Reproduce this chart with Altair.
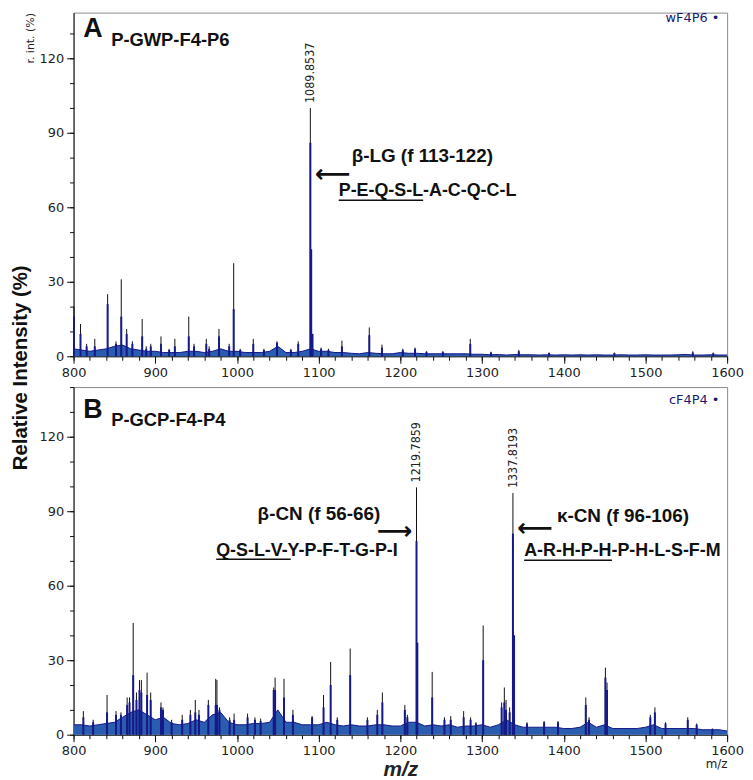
import altair as alt
import pandas as pd

# ---------------- data ----------------
BASE_MZ = list(range(800, 1601, 10))

# panel A (wF4P6) baseline envelope, % relative intensity at BASE_MZ
TOP_BASE = [3, 2.5, 2, 2.5, 3, 4, 4.5, 3, 2.5, 2,
            2, 1.5, 1.5, 1.5, 2, 2, 1.5, 2, 3, 2,
            2, 1.5, 1.5, 1.5, 2, 4, 1.5, 1.5, 2, 3,
            2, 2, 1.5, 1.5, 1.2, 1, 1.5, 1.2, 1, 1,
            1.5, 1.2, 1.2, 1, 1, 1, 1, 1, 1, 0.8,
            0.8, 0.6, 0.7, 0.5, 0.7, 0.6, 0.6, 0.5, 0.6, 0.5,
            0.6, 0.5, 0.6, 0.5, 0.6, 0.5, 0.5, 0.6, 0.5, 0.5,
            0.6, 0.5, 0.5, 0.5, 0.6, 0.7, 0.5, 0.5, 0.6, 0.5,
            0.5]

# panel B (cF4P4) baseline envelope
BOT_BASE = [4, 4, 3.5, 4, 4.5, 5, 7, 9, 10, 8,
            6, 7, 4.5, 4, 4.5, 6, 5, 8, 9, 5,
            4, 4, 4.5, 4.5, 5, 10, 5, 5, 4, 4,
            4, 5, 4, 3.5, 4, 3.5, 3.5, 4, 4, 3.5,
            3.5, 5, 5, 3.5, 4, 3.5, 4, 3, 3.5, 3.5,
            4, 3, 4, 6, 4, 3, 3, 3, 3, 3,
            2.5, 2.5, 3, 5, 3, 4, 2.5, 2.5, 2.5, 2.5,
            3, 4, 2.5, 2.5, 2.5, 2.5, 2.5, 2, 2, 2,
            1.5]

# panel A peaks: m/z, apex (thin black stick), body (blue trace)
TOP_MZ = [800.5, 808.5, 816, 826, 841.7, 852, 858.4, 865, 872, 884,
          889, 894.5, 907, 917, 924, 941, 947.5, 962.5, 966, 978,
          990.5, 996, 1004, 1020, 1033, 1049, 1066, 1075, 1089.85, 1090.9,
          1092.5, 1103, 1112, 1128.5, 1162, 1177.5, 1203, 1218, 1232, 1252,
          1285.6, 1311, 1345, 1382, 1462, 1558, 1583]
TOP_APEX = [20, 13, 5, 7, 25, 6, 31, 11, 6, 15,
            4, 5, 8, 3, 7, 16, 5, 7, 4, 11,
            5, 37.5, 3, 7, 3, 6, 3, 6, 100, 43,
            9, 3.5, 3, 6.3, 11.6, 4.7, 3, 3.5, 2, 2,
            7, 1.8, 2.5, 1.5, 1.5, 2, 1.5]
TOP_BODY = [16, 9, 4, 4, 21, 5, 16, 9, 5, 8,
            3, 4, 5, 2.5, 4, 8, 4, 5, 3, 8,
            4, 19, 2.5, 5, 2.5, 5.5, 2.5, 5, 86, 43,
            9, 3, 2.5, 4, 8.5, 3.5, 2.5, 3, 1.8, 1.8,
            5, 1.5, 2, 1.3, 1.3, 1.5, 1.2]

# panel B peaks
BOT_MZ = [812, 824, 841, 852, 858, 865.6, 868.5, 873, 877, 880.7,
          883, 890, 894.4, 907, 909.5, 920, 933, 943, 949, 953.5,
          965, 974, 975.5, 978.6, 991, 996.5, 1013, 1022, 1029, 1045,
          1046.7, 1057.6, 1068.5, 1092, 1106, 1114.7, 1122.8, 1138.6, 1159.7, 1171.8,
          1178, 1205.5, 1208.6, 1219.79, 1220.8, 1239, 1254, 1261.7, 1277.5, 1286,
          1292.5, 1301.4, 1324, 1327.3, 1329.4, 1333.8, 1337.82, 1339.2, 1355, 1376,
          1393, 1427, 1431, 1451, 1453, 1506, 1511.6, 1524.6, 1551.8, 1562.7,
          1582]
BOT_APEX = [9.5, 6, 16, 9.5, 9, 15, 15, 45, 17, 22,
            22, 25, 17, 13, 11, 6, 8, 10, 14, 10,
            14, 22.5, 22, 11, 7, 8.5, 8.5, 7, 6.5, 19,
            23, 22.5, 10, 7.5, 16, 29.3, 7, 34.7, 7, 10,
            17, 12, 8, 99.6, 37, 25.3, 7, 7.5, 9.5, 7,
            5, 44, 13, 19, 14, 11, 97.3, 40, 5, 5.5,
            5.5, 15, 7, 27, 21, 8, 11, 5, 7, 4.5,
            2.5]
BOT_BODY = [7, 5, 9, 8, 8, 12, 13, 24, 14, 18,
            17, 16, 14, 11, 10, 5, 6, 8, 9, 8,
            12, 12, 12, 10, 6, 6, 7, 6, 5.5, 18,
            18, 15, 8, 7, 11, 20, 6, 24, 6, 8,
            13, 10, 7, 78, 37, 15, 6, 6, 7, 6,
            4.5, 30, 11, 13, 10, 9, 81, 40, 4.5, 5,
            5, 12, 6, 23, 18, 7, 9, 4.5, 6, 4,
            2.3]

# labelled peaks
TOP_LABEL_MZ = [1089.85]
TOP_LABEL_I = [100]
TOP_LABEL_TXT = ["1089.8537"]
BOT_LABEL_MZ = [1219.79, 1337.82]
BOT_LABEL_I = [99.6, 97.3]
BOT_LABEL_TXT = ["1219.7859", "1337.8193"]

X_MAJOR = [800, 900, 1000, 1100, 1200, 1300, 1400, 1500, 1600]
X_MINOR = list(range(800, 1601, 20))
Y_MAJOR = [0, 30, 60, 90, 120]
TOP_Y_MINOR = [0, 10, 20, 30, 40, 50, 60, 70, 80, 90, 100, 110, 120, 130]
BOT_Y_MINOR = [0, 10, 20, 30, 40, 50, 60, 70, 80, 90, 100, 110, 120, 130, 140]

INK = "#111111"
NAVY = "#16198a"
FILL = "#2a5caf"


def panel(base, mz, apex, body, lmz, li, ltxt, letter, name, tag, tag_y,
          heads, seqs, arrows, unders, ymax, yminor_vals, h, bottom):
    xs = alt.Scale(domain=[800, 1600], nice=False, zero=False)
    ys = alt.Scale(domain=[0, ymax], nice=False)
    common = dict(domainColor=INK, tickColor=INK, grid=False, labelFlush=False)
    xmain = alt.Axis(values=X_MAJOR, format="d", tickSize=7, labelFont="DejaVu Sans",
                     labelFontSize=13, labelColor="#222", labelPadding=3,
                     title="m/z" if bottom else None, titleFont="Liberation Sans",
                     titleFontSize=21, titleFontStyle="italic", titleFontWeight="bold",
                     titleColor="#222", titlePadding=1, orient="bottom", **common)
    xminor = alt.Axis(values=X_MINOR, tickSize=4, labels=False, domain=False,
                      title="m/z" if bottom else None, titleAnchor="end",
                      titleFont="DejaVu Sans", titleFontSize=12,
                      titleFontWeight="normal", titleColor="#222",
                      titlePadding=20, orient="bottom", tickColor=INK, grid=False)
    ymain = alt.Axis(values=Y_MAJOR, format="d", tickSize=7, labelFont="DejaVu Sans",
                     labelFontSize=13, labelColor="#222", labelPadding=3,
                     title=None if bottom else "r. int. (%)", titleAnchor="end",
                     titleFont="DejaVu Sans", titleFontSize=11,
                     titleFontWeight="normal", titleColor="#222", titlePadding=4,
                     orient="left", **common)
    yminor = alt.Axis(values=yminor_vals, tickSize=4, labels=False, domain=False,
                      title=None, orient="left", tickColor=INK, grid=False)

    bdf = pd.DataFrame({"mz": BASE_MZ, "i": base})
    pdf = pd.DataFrame({"mz": mz, "apex": apex, "body": body})
    ldf = pd.DataFrame({"mz": lmz, "i": li, "t": ltxt})

    area = alt.Chart(bdf).mark_area(
        color=FILL, opacity=1, line={"color": NAVY, "strokeWidth": 1}
    ).encode(x=alt.X("mz:Q", scale=xs, axis=xmain),
             y=alt.Y("i:Q", scale=ys, axis=ymain))
    sticks = alt.Chart(pdf).mark_rule(color=INK, strokeWidth=1).encode(
        x=alt.X("mz:Q", scale=xs, axis=xminor),
        y=alt.Y("apex:Q", scale=ys, axis=yminor), y2=alt.datum(0))
    bodies = alt.Chart(pdf).mark_rule(color=NAVY, strokeWidth=2).encode(
        x=alt.X("mz:Q", axis=None), y=alt.Y("body:Q", axis=None), y2=alt.datum(0))
    plabels = alt.Chart(ldf).mark_text(
        angle=270, align="left", baseline="middle", dx=5,
        font="DejaVu Sans Condensed", fontSize=12.5, color="#222"
    ).encode(x=alt.X("mz:Q", axis=None), y=alt.Y("i:Q", axis=None), text="t:N")

    letter_df = pd.DataFrame({"mz": [812], "i": [letter[1]], "t": [letter[0]]})
    name_df = pd.DataFrame({"mz": [846], "i": [name[1]], "t": [name[0]]})
    tag_df = pd.DataFrame({"mz": [1590.5], "i": [tag_y], "t": [tag]})
    head_df = pd.DataFrame(heads, columns=["mz", "i", "t"])
    seq_df = pd.DataFrame(seqs, columns=["mz", "i", "t"])
    arr_df = pd.DataFrame(arrows, columns=["mz", "i", "t"])
    ul_df = pd.DataFrame(unders, columns=["x1", "x2", "i"])

    def txt(df, size, align="left", baseline="middle", font="Liberation Sans",
            weight="bold", color=INK):
        return alt.Chart(df).mark_text(
            align=align, baseline=baseline, font=font, fontWeight=weight,
            fontSize=size, color=color
        ).encode(x=alt.X("mz:Q", axis=None), y=alt.Y("i:Q", axis=None), text="t:N")

    t_letter = txt(letter_df, 27, baseline="alphabetic")
    t_name = txt(name_df, 18.5, baseline="alphabetic")
    t_head = txt(head_df, 19)
    t_seq = txt(seq_df, 18)
    t_arr = txt(arr_df, 25, align="center", font="DejaVu Sans")
    t_ul = alt.Chart(ul_df).mark_rule(color=INK, strokeWidth=1.5).encode(
        x=alt.X("x1:Q", axis=None), x2="x2:Q", y=alt.Y("i:Q", axis=None))
    t_tag = txt(tag_df, 13, align="right", font="DejaVu Sans", weight="normal",
                color="#1a1a6e")

    return alt.layer(area, sticks, bodies, plabels, t_letter, t_name, t_head,
                     t_seq, t_arr, t_ul, t_tag).resolve_axis(
        x="independent", y="independent").properties(width=658, height=h)


top = panel(
    TOP_BASE, TOP_MZ, TOP_APEX, TOP_BODY, TOP_LABEL_MZ, TOP_LABEL_I, TOP_LABEL_TXT,
    ("A", 128.4), ("P-GWP-F4-P6", 124.9), "wF4P6 \u2022", 136.3,
    [(1140.4, 80.8, "\u03b2-LG (f 113-122)")],
    [(1124.6, 66.4, "P-E-Q-S-L-A-C-Q-C-L")],
    [(1117.3, 73.2, "\u27f5")],
    [(1124.6, 1227.9, 62.8)],
    138.4, TOP_Y_MINOR, 346, False)

bottom = panel(
    BOT_BASE, BOT_MZ, BOT_APEX, BOT_BODY, BOT_LABEL_MZ, BOT_LABEL_I, BOT_LABEL_TXT,
    ("B", 127.7), ("P-GCP-F4-P4", 124.3), "cF4P4 \u2022", 134.7,
    [(1025.3, 88.7, "\u03b2-CN (f 56-66)"),
     (1391.7, 88.0, "\u03ba-CN (f 96-106)")],
    [(974.6, 74.0, "Q-S-L-V-Y-P-F-T-G-P-I"),
     (1351.6, 74.0, "A-R-H-P-H-P-H-L-S-F-M")],
    [(1193.3, 82.2, "\u27f6"), (1364.8, 83.3, "\u27f5")],
    [(974.6, 1065.8, 70.7), (1351.6, 1459.0, 70.3)],
    140, BOT_Y_MINOR, 350, True)

chart = alt.vconcat(top, bottom, spacing=6).properties(
    padding={"left": 3, "top": 0, "right": 0, "bottom": 0},
    title=alt.TitleParams(text="Relative Intensity (%)", orient="left",
                          anchor="middle", font="Liberation Sans", fontSize=20.5,
                          fontWeight="bold", color="#111", offset=-8, dx=28)
).configure_view(stroke="#8a8a8a", strokeWidth=1)

chart.save("out.html", embed_options={"renderer": "svg", "actions": False})
